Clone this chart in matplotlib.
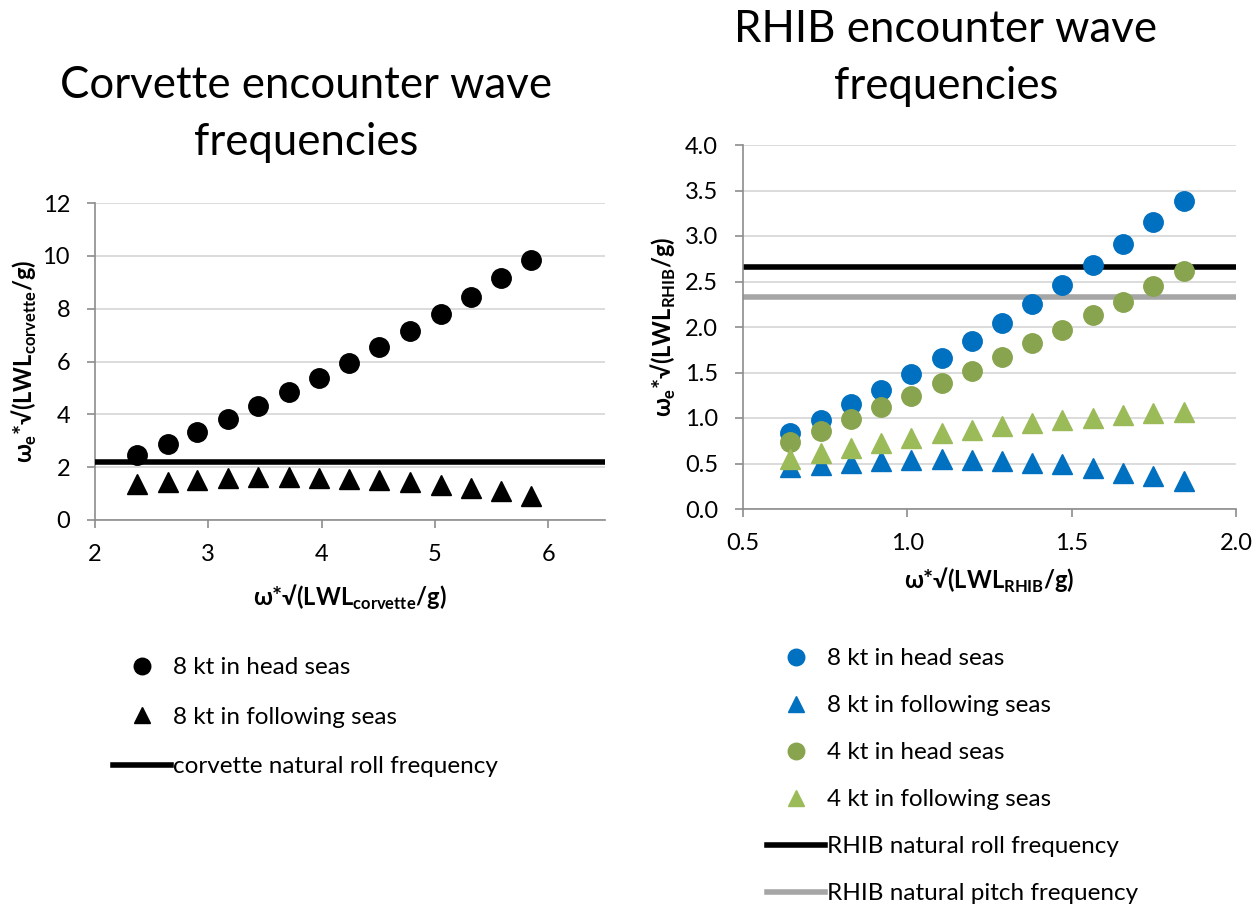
import matplotlib
matplotlib.use('Agg')
import matplotlib.pyplot as plt
from matplotlib.ticker import FormatStrFormatter

# -------------------------------------------------------
# Fonts
plt.rcParams['font.family'] = ['Lato', 'DejaVu Sans']
plt.rcParams['mathtext.fontset'] = 'custom'
plt.rcParams['mathtext.rm'] = 'Lato'
plt.rcParams['mathtext.bf'] = 'Lato:bold'

# -------------------------------------------------------
# Corvette data
corvette_x = [2.37, 2.64, 2.90, 3.17, 3.44, 3.71, 3.98, 4.24, 4.51, 4.78, 5.05, 5.32, 5.58, 5.85]
corvette_head_8kt = [2.45, 2.88, 3.33, 3.81, 4.33, 4.85, 5.39, 5.96, 6.55, 7.17, 7.80, 8.46, 9.15, 9.85]
corvette_follow_8kt = [1.36, 1.44, 1.52, 1.59, 1.63, 1.63, 1.60, 1.57, 1.50, 1.44, 1.34, 1.22, 1.09, 0.92]
corvette_roll = 2.18

# RHIB data
rhib_x = [0.644, 0.736, 0.828, 0.920, 1.012, 1.104, 1.196, 1.288, 1.380, 1.472, 1.564, 1.656, 1.748, 1.841]
rhib_head_8kt = [0.84, 0.98, 1.15, 1.31, 1.48, 1.66, 1.85, 2.04, 2.25, 2.46, 2.68, 2.91, 3.15, 3.39]
rhib_follow_8kt = [0.46, 0.48, 0.51, 0.53, 0.54, 0.55, 0.54, 0.53, 0.51, 0.49, 0.45, 0.40, 0.36, 0.31]
rhib_head_4kt = [0.74, 0.86, 0.99, 1.12, 1.24, 1.38, 1.52, 1.67, 1.82, 1.97, 2.13, 2.28, 2.45, 2.62]
rhib_follow_4kt = [0.55, 0.61, 0.67, 0.73, 0.78, 0.83, 0.87, 0.91, 0.94, 0.98, 1.00, 1.03, 1.05, 1.07]
rhib_roll = 2.66
rhib_pitch = 2.33

corvette_yticks = [0, 2, 4, 6, 8, 10, 12]
corvette_xticks = [2, 3, 4, 5, 6]
rhib_yticks = [0.0, 0.5, 1.0, 1.5, 2.0, 2.5, 3.0, 3.5, 4.0]
rhib_xticks = [0.5, 1.0, 1.5, 2.0]

blue = '#0070C0'
dark_green = '#88A44E'
light_green = '#9BBB59'
axis_gray = '#8C8C8C'
grid_gray = '#D9D9D9'

tick_size = 17
label_size = 17
legend_size = 17.5
title_size = 31.5
ms = 14

fig = plt.figure(figsize=(12.58, 9.10), dpi=100)
ax1 = fig.add_axes([95 / 1258, 1 - 520 / 910, 510 / 1258, 317 / 910])
ax2 = fig.add_axes([743 / 1258, 1 - 509 / 910, 493 / 1258, 364 / 910])


def style_axes(ax):
    for side in ['top', 'right']:
        ax.spines[side].set_visible(False)
    for side in ['left', 'bottom']:
        ax.spines[side].set_color(axis_gray)
        ax.spines[side].set_linewidth(1.2)
    ax.grid(axis='y', color=grid_gray, linewidth=1.3)
    ax.set_axisbelow(True)
    ax.tick_params(axis='both', direction='out', length=6, width=1.2,
                   color=axis_gray, labelsize=tick_size, labelcolor='black')
    ax.tick_params(axis='y', pad=12)
    ax.tick_params(axis='x', pad=11)


# -------------------------------------------------------
# Left chart: corvette
style_axes(ax1)
ax1.plot(corvette_x, corvette_head_8kt, 'o', color='black', ms=ms, label='8 kt in head seas', zorder=3)
ax1.plot(corvette_x, corvette_follow_8kt, '^', color='black', ms=ms, label='8 kt in following seas', zorder=3)
ax1.axhline(corvette_roll, color='black', linewidth=4, label='corvette natural roll frequency', zorder=4)
ax1.set_xlim(2, 6.5)
ax1.set_ylim(0, 12)
ax1.set_xticks(corvette_xticks)
ax1.set_yticks(corvette_yticks)
ax1.set_xlabel(r'ω*√(LWL$_\mathbf{corvette}$/g)', fontsize=label_size, fontweight='bold', va='center')
ax1.set_ylabel(r'ω$_\mathbf{e}$*√(LWL$_\mathbf{corvette}$/g)', fontsize=label_size, fontweight='bold', va='center')
ax1.xaxis.set_label_coords(0.5, -77 / 317)
ax1.yaxis.set_label_coords(-71 / 510, 0.5)

# Right chart: RHIB
style_axes(ax2)
ax2.plot(rhib_x, rhib_head_8kt, 'o', color=blue, ms=ms, label='8 kt in head seas', zorder=3)
ax2.plot(rhib_x, rhib_follow_8kt, '^', color=blue, ms=ms, label='8 kt in following seas', zorder=3)
ax2.plot(rhib_x, rhib_head_4kt, 'o', color=dark_green, ms=ms, label='4 kt in head seas', zorder=3)
ax2.plot(rhib_x, rhib_follow_4kt, '^', color=light_green, ms=ms, label='4 kt in following seas', zorder=3)
ax2.axhline(rhib_roll, color='black', linewidth=4, label='RHIB natural roll frequency', zorder=2)
ax2.axhline(rhib_pitch, color='#A6A6A6', linewidth=4, label='RHIB natural pitch frequency', zorder=2)
ax2.set_xlim(0.5, 2.0)
ax2.set_ylim(0, 4.0)
ax2.set_xticks(rhib_xticks)
ax2.set_yticks(rhib_yticks)
ax2.xaxis.set_major_formatter(FormatStrFormatter('%.1f'))
ax2.yaxis.set_major_formatter(FormatStrFormatter('%.1f'))
ax2.set_xlabel(r'ω*√(LWL$_\mathbf{RHIB}$/g)', fontsize=label_size, fontweight='bold', va='center')
ax2.set_ylabel(r'ω$_\mathbf{e}$*√(LWL$_\mathbf{RHIB}$/g)', fontsize=label_size, fontweight='bold', va='center')
ax2.xaxis.set_label_coords(0.5, -71 / 364)
ax2.yaxis.set_label_coords(-80 / 493, 0.5)

# Titles
fig.text(306 / 1258, 1 - 114 / 910, 'Corvette encounter wave\nfrequencies',
         fontsize=title_size, ha='center', va='center', linespacing=1.5)
fig.text(946 / 1258, 1 - 58 / 910, 'RHIB encounter wave\nfrequencies',
         fontsize=title_size, ha='center', va='center', linespacing=1.5)

# Legends below each chart
fig.legend(*ax1.get_legend_handles_labels(), loc='upper left',
           bbox_to_anchor=(113 / 1258, 1 - 657 / 910), frameon=False,
           fontsize=legend_size, markerscale=0.85, handlelength=2.4,
           handletextpad=0.05, labelspacing=1.18, borderpad=0, borderaxespad=0)
fig.legend(*ax2.get_legend_handles_labels(), loc='upper left',
           bbox_to_anchor=(767 / 1258, 1 - 648 / 910), frameon=False,
           fontsize=legend_size, markerscale=0.85, handlelength=2.4,
           handletextpad=0.05, labelspacing=1.07, borderpad=0, borderaxespad=0)

fig.savefig('out.png', dpi=100)
